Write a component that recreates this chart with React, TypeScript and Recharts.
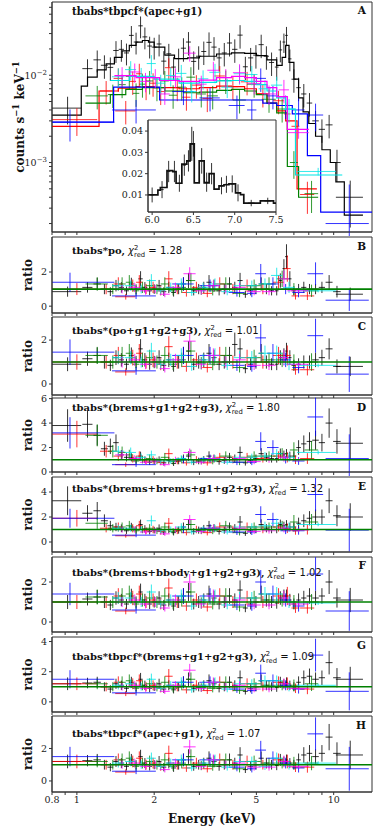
import React from 'react';
import { ComposedChart, Scatter, Line, XAxis, YAxis, ErrorBar, ReferenceLine, ReferenceArea } from 'recharts';

// ---------- axis ticks ----------
const xTicks = [0.8, 0.9, 1, 2, 3, 4, 5, 6, 7, 8, 9, 10];
const xLabeled = [0.8, 1, 2, 5, 10];
const aTicks = [2e-4, 3e-4, 4e-4, 5e-4, 6e-4, 7e-4, 8e-4, 9e-4, 1e-3, 2e-3, 3e-3, 4e-3, 5e-3, 6e-3, 7e-3, 8e-3, 9e-3, 1e-2, 2e-2, 3e-2, 4e-2, 5e-2, 6e-2];
const insetXTicks = [6.0, 6.5, 7.0, 7.5];
const insetYTicks = [0.01, 0.02, 0.03, 0.04];

// ---------- black (source) ----------
const blackEn = [0.92, 1.1, 1.2, 1.28, 1.35, 1.42, 1.49, 1.56, 1.63, 1.7, 1.77, 1.84, 1.92, 2.0, 2.09, 2.18, 2.28, 2.38, 2.49, 2.6, 2.72, 2.85, 2.98, 3.12, 3.27, 3.42, 3.58, 3.75, 3.93, 4.12, 4.32, 4.53, 4.75, 4.98, 5.22, 5.47, 5.73, 6.0, 6.2, 6.4, 6.55, 6.75, 7.0, 7.3, 7.65, 8.05, 8.5, 9.0, 9.6, 10.3, 11.6];
const blackHw = [0.12, 0.05, 0.04, 0.04, 0.035, 0.035, 0.035, 0.035, 0.035, 0.035, 0.035, 0.04, 0.04, 0.045, 0.045, 0.05, 0.05, 0.05, 0.055, 0.06, 0.06, 0.065, 0.07, 0.07, 0.075, 0.08, 0.08, 0.085, 0.09, 0.1, 0.1, 0.1, 0.11, 0.12, 0.12, 0.13, 0.13, 0.1, 0.1, 0.08, 0.08, 0.1, 0.15, 0.15, 0.18, 0.2, 0.25, 0.25, 0.3, 0.35, 1.4];
const blackFlux = [0.0042, 0.0119, 0.015, 0.013, 0.0123, 0.0192, 0.0198, 0.018, 0.0286, 0.024, 0.0368, 0.0275, 0.0216, 0.021, 0.0228, 0.0145, 0.0176, 0.0124, 0.0155, 0.0204, 0.024, 0.0144, 0.0165, 0.0187, 0.0238, 0.021, 0.0158, 0.018, 0.0234, 0.0198, 0.0288, 0.0125, 0.0158, 0.017, 0.0224, 0.0165, 0.014, 0.0124, 0.0195, 0.024, 0.0286, 0.0154, 0.009, 0.0072, 0.0061, 0.0048, 0.003, 0.0024, 0.0027, 0.001, 0.0004];
const blackRel = [0.35, 0.28, 0.28, 0.3, 0.3, 0.28, 0.28, 0.28, 0.28, 0.28, 0.28, 0.28, 0.28, 0.28, 0.28, 0.3, 0.3, 0.3, 0.3, 0.3, 0.3, 0.3, 0.3, 0.3, 0.3, 0.3, 0.3, 0.3, 0.3, 0.3, 0.3, 0.3, 0.3, 0.3, 0.3, 0.3, 0.3, 0.3, 0.28, 0.25, 0.25, 0.28, 0.3, 0.3, 0.3, 0.3, 0.3, 0.3, 0.3, 0.4, 0.55];
const blackModelEn = [0.8, 1.04, 1.1, 1.2, 1.3, 1.4, 1.5, 1.6, 1.7, 1.8, 1.9, 2.0, 2.2, 2.4, 2.7, 3.0, 3.5, 4.0, 4.5, 5.0, 5.5, 6.0, 6.3, 6.5, 6.7, 7.0, 7.3, 7.6, 8.0, 8.5, 9.0, 9.7, 10.2, 11.0, 13.0];
const blackModelFlux = [0.0035, 0.0075, 0.0095, 0.0115, 0.0135, 0.016, 0.019, 0.022, 0.024, 0.025, 0.024, 0.021, 0.017, 0.0155, 0.0158, 0.0165, 0.0175, 0.018, 0.0178, 0.0168, 0.015, 0.013, 0.016, 0.022, 0.014, 0.009, 0.0055, 0.0038, 0.0028, 0.002, 0.0014, 0.001, 0.0006, 0.00025, 0.00025];
const blackRatioB = [0.85, 1.1, 1.3, 1.0, 0.85, 1.2, 1.1, 0.9, 1.3, 1.0, 1.6, 1.1, 0.9, 1.0, 1.2, 0.85, 1.1, 0.8, 1.0, 1.3, 1.5, 0.9, 1.0, 1.1, 1.4, 1.2, 0.9, 1.0, 1.3, 1.1, 1.5, 0.7, 0.9, 1.0, 1.3, 1.0, 0.9, 0.9, 1.5, 2.2, 2.9, 1.6, 0.9, 1.0, 1.1, 1.0, 1.0, 1.1, 1.4, 0.85, 0.7];
const blackRatioC = [0.9, 1.15, 1.3, 1.0, 0.85, 1.2, 1.1, 0.9, 1.3, 1.0, 1.6, 1.1, 0.9, 1.0, 1.2, 0.85, 1.1, 0.8, 1.0, 1.3, 1.5, 0.9, 1.0, 1.1, 1.4, 1.2, 0.9, 1.0, 1.3, 1.8, 1.6, 0.7, 0.9, 1.0, 1.4, 1.0, 0.9, 0.9, 1.2, 1.3, 1.5, 1.2, 0.85, 0.9, 1.0, 1.0, 1.1, 1.2, 1.6, 0.8, 0.8];
const blackRatioD = [3.8, 3.9, 3.0, 1.9, 2.1, 2.4, 1.4, 1.2, 1.2, 1.0, 1.3, 1.0, 0.8, 0.9, 1.0, 0.75, 0.95, 0.7, 0.9, 1.1, 1.3, 0.8, 0.9, 1.0, 1.3, 1.1, 0.85, 0.95, 1.2, 1.1, 1.6, 0.75, 0.95, 1.1, 1.5, 1.2, 1.1, 1.1, 1.5, 1.4, 1.5, 1.3, 1.3, 2.0, 2.3, 2.5, 2.6, 2.4, 4.0, 2.5, 2.35];
const blackRatioE = [3.3, 2.3, 2.5, 1.7, 1.3, 1.2, 1.1, 0.9, 1.2, 1.0, 1.4, 1.05, 0.85, 0.95, 1.1, 0.8, 1.0, 0.75, 0.95, 1.2, 1.4, 0.85, 0.95, 1.05, 1.3, 1.1, 0.85, 0.95, 1.2, 1.1, 1.6, 0.7, 0.9, 1.0, 1.4, 1.1, 1.0, 1.0, 1.4, 1.3, 1.4, 1.2, 1.2, 1.5, 1.7, 1.9, 2.0, 2.0, 3.3, 2.1, 2.0];
const blackRatioF = [1.0, 1.15, 1.25, 1.0, 0.85, 1.2, 1.1, 0.9, 1.3, 1.0, 1.5, 1.1, 0.9, 1.0, 1.2, 0.85, 1.1, 0.8, 1.0, 1.3, 1.5, 0.9, 1.0, 1.1, 1.4, 1.2, 0.9, 1.0, 1.3, 1.1, 1.6, 0.7, 0.9, 1.0, 1.4, 1.1, 1.0, 0.95, 1.2, 1.3, 1.3, 1.1, 0.9, 1.1, 1.2, 1.3, 1.2, 1.3, 2.0, 1.2, 1.1];
const blackRatioG = [1.2, 1.25, 1.3, 1.0, 0.85, 1.2, 1.1, 0.9, 1.3, 1.0, 1.5, 1.1, 0.9, 1.0, 1.2, 0.85, 1.1, 0.8, 1.0, 1.3, 1.5, 0.9, 1.0, 1.1, 1.4, 1.2, 0.9, 1.0, 1.3, 1.1, 1.6, 0.7, 0.9, 1.0, 1.4, 1.1, 1.0, 0.95, 1.3, 1.2, 1.3, 1.1, 1.0, 1.3, 1.6, 1.7, 1.5, 1.6, 2.6, 1.6, 1.5];
const blackRatioH = [1.2, 1.25, 1.3, 1.0, 0.85, 1.2, 1.1, 0.9, 1.3, 1.0, 1.5, 1.1, 0.9, 1.0, 1.2, 0.85, 1.1, 0.8, 1.0, 1.3, 1.5, 0.9, 1.0, 1.1, 1.4, 1.2, 0.9, 1.0, 1.3, 1.1, 1.6, 0.7, 0.9, 1.0, 1.4, 1.1, 1.0, 0.95, 1.3, 1.2, 1.3, 1.1, 1.0, 1.3, 1.6, 1.7, 1.5, 1.7, 2.7, 1.7, 1.6];

// ---------- red ----------
const redEn = [1.0, 1.3, 1.45, 1.55, 1.65, 1.75, 1.86, 1.98, 2.12, 2.28, 2.46, 2.67, 2.92, 3.22, 3.6, 4.05, 4.6, 5.3, 6.1, 6.6, 7.1, 7.9];
const redHw = [0.2, 0.07, 0.06, 0.14, 0.05, 0.05, 0.06, 0.06, 0.07, 0.08, 0.09, 0.1, 0.12, 0.14, 0.17, 0.2, 0.25, 0.3, 0.3, 0.2, 0.25, 0.5];
const redFlux = [0.0031, 0.0066, 0.0092, 0.0039, 0.0085, 0.0104, 0.0074, 0.0081, 0.0065, 0.0122, 0.0072, 0.0056, 0.0077, 0.0054, 0.0098, 0.0074, 0.0084, 0.0061, 0.0051, 0.0036, 0.0026, 0.00043];
const redRel = [0.35, 0.3, 0.3, 0.3, 0.3, 0.3, 0.3, 0.3, 0.3, 0.28, 0.3, 0.3, 0.3, 0.3, 0.3, 0.3, 0.3, 0.3, 0.3, 0.35, 0.35, 0.4];
const redModelEn = [0.8, 1.22, 1.45, 1.7, 2.0, 2.5, 3.0, 3.5, 4.0, 4.5, 5.0, 5.5, 6.0, 6.5, 7.2, 8.6];
const redModelFlux = [0.0026, 0.0066, 0.0071, 0.0074, 0.0072, 0.007, 0.0072, 0.0075, 0.0074, 0.007, 0.0061, 0.0048, 0.0039, 0.003, 0.0005, 0.0005];
const redRatioB = [1.0, 1.0, 1.3, 0.55, 1.2, 1.4, 1.0, 1.1, 0.9, 1.6, 1.0, 0.8, 1.1, 0.75, 1.3, 1.0, 1.2, 1.0, 1.4, 2.2, 0.6, 0.6];
const redRatioC = [1.0, 1.0, 1.3, 0.55, 1.2, 1.4, 1.0, 1.1, 0.9, 1.7, 1.0, 0.8, 1.1, 0.75, 1.3, 1.0, 1.2, 1.0, 1.3, 1.3, 0.65, 0.65];
const redRatioD = [3.1, 1.7, 1.3, 0.6, 1.1, 1.3, 0.9, 1.0, 0.8, 1.5, 0.9, 0.75, 1.0, 0.75, 1.2, 1.0, 1.2, 1.1, 1.3, 1.2, 1.0, 1.1];
const redRatioE = [1.9, 1.1, 1.2, 0.5, 1.1, 1.3, 0.9, 1.0, 0.85, 1.5, 0.9, 0.75, 1.0, 0.75, 1.2, 1.0, 1.2, 1.0, 1.2, 1.1, 0.9, 1.0];
const redRatioF = [1.0, 1.0, 1.3, 0.55, 1.2, 1.4, 1.0, 1.1, 0.9, 1.7, 1.0, 0.8, 1.1, 0.75, 1.3, 1.0, 1.2, 1.0, 1.3, 1.3, 0.7, 0.7];
const redRatioG = [1.2, 1.0, 1.3, 0.55, 1.2, 1.4, 1.0, 1.1, 0.9, 1.7, 1.0, 0.8, 1.1, 0.75, 1.3, 1.0, 1.2, 1.0, 1.3, 1.2, 0.9, 0.85];
const redRatioH = [1.2, 1.0, 1.3, 0.55, 1.2, 1.4, 1.0, 1.1, 0.9, 1.7, 1.0, 0.8, 1.1, 0.75, 1.3, 1.0, 1.2, 1.0, 1.3, 1.2, 0.85, 0.85];

// ---------- green ----------
const greenEn = [1.2, 1.38, 1.5, 1.6, 1.7, 1.8, 1.92, 2.05, 2.2, 2.37, 2.56, 2.78, 3.05, 3.38, 3.8, 4.3, 4.9, 5.6, 6.3, 7.0, 8.2];
const greenHw = [0.12, 0.06, 0.05, 0.05, 0.05, 0.05, 0.06, 0.07, 0.08, 0.09, 0.1, 0.11, 0.13, 0.16, 0.2, 0.25, 0.3, 0.35, 0.3, 0.25, 0.5];
const greenFlux = [0.0058, 0.006, 0.0078, 0.0097, 0.0062, 0.0079, 0.0086, 0.0072, 0.0086, 0.0059, 0.0073, 0.0095, 0.0061, 0.0058, 0.0087, 0.0052, 0.0079, 0.0053, 0.0041, 0.001, 0.00044];
const greenRel = [0.3, 0.3, 0.3, 0.3, 0.3, 0.3, 0.3, 0.3, 0.3, 0.3, 0.3, 0.3, 0.3, 0.3, 0.3, 0.3, 0.3, 0.3, 0.3, 0.35, 0.4];
const greenModelEn = [1.08, 1.35, 1.55, 1.8, 2.2, 2.6, 3.0, 3.5, 4.0, 4.5, 5.0, 5.5, 6.0, 6.6, 7.3, 8.7];
const greenModelFlux = [0.0048, 0.006, 0.0069, 0.0072, 0.0066, 0.0063, 0.0064, 0.0067, 0.0069, 0.0066, 0.006, 0.0048, 0.0037, 0.0009, 0.0004, 0.0004];
const greenRatioB = [1.3, 1.0, 1.3, 1.4, 0.9, 1.1, 1.2, 1.0, 1.3, 0.9, 1.1, 1.5, 0.95, 0.9, 1.3, 0.75, 1.2, 1.3, 1.6, 1.0, 0.9];
const greenRatioC = [1.3, 1.0, 1.3, 1.4, 0.9, 1.1, 1.2, 1.0, 1.3, 0.9, 1.1, 1.5, 0.95, 0.9, 1.3, 0.75, 1.2, 1.1, 1.1, 1.0, 1.0];
const greenRatioD = [3.0, 1.7, 1.6, 1.4, 0.9, 1.0, 1.1, 0.9, 1.2, 0.85, 1.0, 1.4, 0.9, 0.9, 1.3, 0.8, 1.3, 1.3, 1.5, 1.8, 1.8];
const greenRatioE = [1.5, 1.1, 1.2, 1.3, 0.9, 1.0, 1.1, 0.9, 1.2, 0.85, 1.0, 1.4, 0.9, 0.9, 1.3, 0.75, 1.2, 1.2, 1.3, 1.6, 1.6];
const greenRatioF = [1.25, 1.0, 1.3, 1.4, 0.9, 1.1, 1.2, 1.0, 1.3, 0.9, 1.1, 1.5, 0.95, 0.9, 1.3, 0.75, 1.2, 1.1, 1.1, 1.0, 1.0];
const greenRatioG = [1.2, 1.0, 1.3, 1.4, 0.9, 1.1, 1.2, 1.0, 1.3, 0.9, 1.1, 1.5, 0.95, 0.9, 1.3, 0.75, 1.2, 1.1, 1.1, 1.1, 1.2];
const greenRatioH = [1.2, 1.0, 1.3, 1.4, 0.9, 1.1, 1.2, 1.0, 1.3, 0.9, 1.1, 1.5, 0.95, 0.9, 1.3, 0.75, 1.2, 1.1, 1.1, 1.1, 1.1];

// ---------- blue ----------
const blueEn = [0.94, 1.7, 2.6, 3.3, 4.2, 4.8, 5.2, 5.8, 6.5, 7.3, 8.5, 11.5];
const blueHw: (number | [number, number])[] = [[0.14, 0.46], 0.33, 0.25, 0.3, 0.3, 0.2, 0.25, 0.3, 0.3, 0.4, 0.6, 2.2];
const blueFlux = [0.0029, 0.004, 0.0065, 0.0055, 0.0045, 0.004, 0.0092, 0.0058, 0.0045, 0.004, 0.0035, 0.0002];
const blueRel = [0.4, 0.3, 0.3, 0.3, 0.3, 0.3, 0.3, 0.3, 0.3, 0.35, 0.35, 1.8];
const blueModelEn = [0.8, 1.39, 2.1, 5.3, 6.0, 6.9, 7.9, 8.9, 14.1];
const blueModelFlux = [0.0029, 0.0073, 0.0052, 0.0048, 0.0045, 0.0036, 0.0012, 0.00027, 0.00027];
const blueRatioB = [1.4, 0.6, 1.3, 1.2, 0.8, 0.75, 1.9, 1.3, 1.0, 0.8, 1.9, 0.35];
const blueRatioC = [1.45, 0.6, 1.3, 1.3, 0.85, 0.8, 2.1, 1.4, 1.1, 0.75, 2.2, 0.45];
const blueRatioD = [3.2, 0.6, 1.0, 1.1, 0.8, 0.8, 2.5, 2.0, 1.0, 0.9, 4.5, 1.1];
const blueRatioE = [1.9, 0.55, 1.0, 1.1, 0.8, 0.8, 2.2, 1.8, 0.9, 0.9, 3.8, 0.95];
const blueRatioF = [1.4, 0.6, 1.3, 1.3, 0.85, 0.8, 2.0, 1.4, 1.1, 0.8, 2.4, 0.55];
const blueRatioG = [1.5, 0.6, 1.3, 1.3, 0.85, 0.75, 1.9, 1.4, 1.1, 0.85, 3.1, 0.7];
const blueRatioH = [1.5, 0.6, 1.3, 1.3, 0.85, 0.75, 1.9, 1.4, 1.1, 0.8, 2.9, 0.75];

// ---------- cyan ----------
const cyanEn = [1.45, 1.62, 1.78, 1.95, 2.12, 2.32, 2.55, 2.8, 3.1, 3.45, 3.85, 4.3, 4.8, 5.4, 6.0, 6.7, 8.7];
const cyanHw = [0.08, 0.08, 0.08, 0.08, 0.09, 0.1, 0.12, 0.13, 0.15, 0.17, 0.2, 0.22, 0.25, 0.3, 0.3, 0.35, 1.5];
const cyanFlux = [0.0096, 0.0116, 0.0097, 0.0136, 0.0081, 0.0099, 0.0105, 0.0065, 0.0091, 0.0108, 0.0073, 0.0104, 0.0102, 0.007, 0.0077, 0.0041, 0.00079];
const cyanRel = [0.25, 0.25, 0.25, 0.25, 0.25, 0.25, 0.25, 0.25, 0.25, 0.25, 0.25, 0.25, 0.25, 0.25, 0.25, 0.3, 0.1];
const cyanModelEn = [1.35, 1.6, 2.0, 2.5, 3.0, 3.5, 4.0, 4.5, 5.0, 5.5, 6.0, 6.5, 7.1, 10.8];
const cyanModelFlux = [0.0087, 0.0097, 0.009, 0.0081, 0.0083, 0.0086, 0.0087, 0.0085, 0.0078, 0.0066, 0.0055, 0.0041, 0.00072, 0.00072];
const cyanRatioB = [1.2, 1.2, 1.0, 1.5, 0.9, 1.1, 1.3, 0.8, 1.1, 1.3, 0.85, 1.2, 1.2, 1.3, 1.8, 1.1, 0.9];
const cyanRatioC = [1.2, 1.2, 1.0, 1.5, 0.9, 1.1, 1.3, 0.8, 1.1, 1.3, 0.85, 1.2, 1.2, 1.4, 1.4, 0.9, 0.85];
const cyanRatioD = [1.7, 1.6, 1.2, 1.4, 0.9, 0.9, 1.1, 0.8, 1.0, 1.1, 0.8, 1.2, 1.2, 1.3, 1.5, 1.2, 1.6];
const cyanRatioE = [1.1, 1.1, 1.0, 1.7, 0.9, 1.0, 1.2, 0.8, 1.0, 1.1, 0.8, 1.2, 1.2, 1.3, 1.5, 1.2, 1.4];
const cyanRatioF = [1.2, 1.2, 1.0, 1.5, 0.9, 1.1, 1.3, 0.8, 1.1, 1.3, 0.85, 1.2, 1.2, 1.4, 1.4, 1.0, 0.95];
const cyanRatioG = [1.1, 1.2, 1.0, 1.5, 0.9, 1.1, 1.3, 0.8, 1.1, 1.3, 0.85, 1.2, 1.2, 1.4, 1.4, 1.0, 1.1];
const cyanRatioH = [1.1, 1.2, 1.0, 1.4, 0.9, 1.1, 1.3, 0.8, 1.1, 1.3, 0.85, 1.2, 1.2, 0.9, 1.4, 1.0, 1.1];

// ---------- magenta ----------
const magentaEn = [1.5, 1.68, 1.85, 2.02, 2.2, 2.42, 2.75, 3.05, 3.4, 3.8, 4.3, 4.9, 5.6, 6.4, 7.3];
const magentaHw = [0.09, 0.09, 0.09, 0.09, 0.1, 0.12, 0.15, 0.15, 0.18, 0.2, 0.25, 0.3, 0.35, 0.3, 0.7];
const magentaFlux = [0.0099, 0.0109, 0.0085, 0.0094, 0.0061, 0.0096, 0.0179, 0.0079, 0.0114, 0.0094, 0.0107, 0.008, 0.0061, 0.0068, 0.0022];
const magentaRel = [0.25, 0.25, 0.25, 0.25, 0.25, 0.25, 0.2, 0.25, 0.25, 0.25, 0.25, 0.25, 0.25, 0.3, 0.15];
const magentaModelEn = [1.4, 1.7, 2.1, 2.5, 3.0, 3.5, 4.0, 4.5, 5.0, 5.5, 6.0, 6.6, 8.0];
const magentaModelFlux = [0.0099, 0.0094, 0.0087, 0.0085, 0.0088, 0.0094, 0.0097, 0.0094, 0.0085, 0.0072, 0.0057, 0.0024, 0.0024];
const magentaRatioB = [1.0, 1.1, 0.9, 1.0, 0.7, 1.1, 1.9, 0.9, 1.2, 1.0, 1.1, 0.85, 0.85, 1.6, 0.9];
const magentaRatioC = [1.0, 1.1, 0.9, 1.0, 0.7, 1.1, 1.95, 0.9, 1.3, 1.0, 1.1, 0.85, 0.85, 1.2, 0.9];
const magentaRatioD = [1.4, 1.1, 0.8, 0.9, 0.6, 1.0, 1.6, 0.8, 1.1, 1.0, 1.1, 0.85, 1.0, 1.2, 1.0];
const magentaRatioE = [1.0, 1.0, 0.8, 0.9, 0.65, 1.0, 1.8, 0.85, 1.1, 1.0, 1.1, 0.85, 0.9, 1.1, 0.95];
const magentaRatioF = [1.0, 1.1, 0.9, 1.0, 0.7, 1.1, 2.0, 0.9, 1.3, 1.0, 1.1, 0.85, 0.85, 1.2, 0.9];
const magentaRatioG = [1.0, 1.1, 0.9, 1.0, 0.7, 1.1, 2.1, 0.9, 1.3, 1.0, 1.1, 0.85, 0.85, 1.2, 0.9];
const magentaRatioH = [1.0, 1.1, 0.9, 1.0, 0.7, 1.1, 2.1, 0.9, 1.3, 1.0, 1.1, 0.85, 0.85, 1.2, 0.9];

// ---------- inset (Fe K region) ----------
const insetStepEn = [5.95, 6.07, 6.1, 6.18, 6.25, 6.29, 6.36, 6.42, 6.46, 6.51, 6.57, 6.63, 6.69, 6.75, 6.81, 6.87, 6.93, 7.01, 7.07, 7.11, 7.31, 7.47, 7.5];
const insetStepFlux = [0.01, 0.0123, 0.0135, 0.0214, 0.021, 0.0155, 0.0245, 0.026, 0.034, 0.0157, 0.026, 0.0157, 0.02, 0.0127, 0.0143, 0.0148, 0.0152, 0.011, 0.0102, 0.0062, 0.0072, 0.0062, 0.0062];
const insetEn = [6.0, 6.12, 6.2, 6.27, 6.33, 6.39, 6.44, 6.48, 6.5, 6.6, 6.66, 6.72, 6.84, 6.9, 6.97, 7.04, 7.2, 7.4];
const insetFlux = [0.01, 0.0125, 0.021, 0.021, 0.0155, 0.024, 0.026, 0.034, 0.034, 0.026, 0.016, 0.02, 0.0143, 0.015, 0.0152, 0.011, 0.0062, 0.0072];
const insetErr = [0.0035, 0.004, 0.005, 0.005, 0.004, 0.005, 0.005, 0.008, 0.006, 0.006, 0.0045, 0.005, 0.004, 0.004, 0.004, 0.004, 0.0015, 0.0015];
const insetHw = [0.02, 0.02, 0.02, 0.02, 0.02, 0.02, 0.02, 0.02, 0.02, 0.02, 0.02, 0.02, 0.02, 0.02, 0.02, 0.02, 0.04, 0.04];

// ---------- panel text ----------
const panelLetters = ['B', 'C', 'D', 'E', 'F', 'G', 'H'];
const panelModels = ['tbabs*po,', 'tbabs*(po+g1+g2+g3),', 'tbabs*(brems+g1+g2+g3),', 'tbabs*(brems+brems+g1+g2+g3),', 'tbabs*(brems+bbody+g1+g2+g3),', 'tbabs*tbpcf*(brems+g1+g2+g3),', 'tbabs*tbpcf*(apec+g1),'];
const panelChi = ['1.28', '1.01', '1.80', '1.32', '1.02', '1.09', '1.07'];

// ---------- styling / layout ----------
const SERIF = "'DejaVu Serif', serif";
const SANS = "'DejaVu Sans', sans-serif";
const X_DOMAIN: [number, number] = [0.8, 14.1];
const A_DOMAIN: [number, number] = [1.6e-4, 0.069];
const C_BLACK = '#000000';
const C_RED = '#ff0000';
const C_GREEN = '#008000';
const C_BLUE = '#0000ff';
const C_CYAN = '#00e5e5';
const C_MAGENTA = '#ff00ff';
const AXIS = '#333333';
const TOPPAD = 6;

const ratioLayout = [
  { top: 237, bottom: 313, domain: [-0.4, 4.05], ticks: [0, 2] },
  { top: 317, bottom: 395, domain: [-0.5, 3.05], ticks: [0, 2] },
  { top: 398, bottom: 472, domain: [0, 6.05], ticks: [0, 2, 4, 6] },
  { top: 477, bottom: 552, domain: [-0.8, 5.2], ticks: [0, 2, 4] },
  { top: 557, bottom: 632, domain: [-0.5, 3.25], ticks: [0, 2] },
  { top: 637, bottom: 712, domain: [-0.67, 4.3], ticks: [0, 2, 4] },
  { top: 716, bottom: 792, domain: [-0.68, 4.0], ticks: [0, 2] },
];
const ratioSets = [
  [blackRatioB, redRatioB, greenRatioB, blueRatioB, cyanRatioB, magentaRatioB],
  [blackRatioC, redRatioC, greenRatioC, blueRatioC, cyanRatioC, magentaRatioC],
  [blackRatioD, redRatioD, greenRatioD, blueRatioD, cyanRatioD, magentaRatioD],
  [blackRatioE, redRatioE, greenRatioE, blueRatioE, cyanRatioE, magentaRatioE],
  [blackRatioF, redRatioF, greenRatioF, blueRatioF, cyanRatioF, magentaRatioF],
  [blackRatioG, redRatioG, greenRatioG, blueRatioG, cyanRatioG, magentaRatioG],
  [blackRatioH, redRatioH, greenRatioH, blueRatioH, cyanRatioH, magentaRatioH],
];
const seriesDefs = [
  { en: blackEn, hw: blackHw, rel: blackRel, color: C_BLACK },
  { en: redEn, hw: redHw, rel: redRel, color: C_RED },
  { en: greenEn, hw: greenHw, rel: greenRel, color: C_GREEN },
  { en: blueEn, hw: blueHw, rel: blueRel, color: C_BLUE },
  { en: cyanEn, hw: cyanHw, rel: cyanRel, color: C_CYAN },
  { en: magentaEn, hw: magentaHw, rel: magentaRel, color: C_MAGENTA },
];
const fluxSets = [
  { flux: blackFlux, mEn: blackModelEn, mFlux: blackModelFlux },
  { flux: redFlux, mEn: redModelEn, mFlux: redModelFlux },
  { flux: greenFlux, mEn: greenModelEn, mFlux: greenModelFlux },
  { flux: blueFlux, mEn: blueModelEn, mFlux: blueModelFlux },
  { flux: cyanFlux, mEn: cyanModelEn, mFlux: cyanModelFlux },
  { flux: magentaFlux, mEn: magentaModelEn, mFlux: magentaModelFlux },
];

function makePoints(en: number[], hw: any[], val: number[], rel: number[], logSafe = false) {
  return en.map((e, i) => {
    const v = val[i];
    const err = v * rel[i];
    return { x: e, y: v, ex: hw[i], ey: logSafe ? [Math.min(err, v * 0.92), err] : err };
  });
}
function makeSteps(en: number[], val: number[]) {
  return en.map((e, i) => ({ x: e, y: val[i] }));
}

const NoShape = () => <g />;

function crosses(data: any[], color: string, id: string, width = 1, opacity = 0.8) {
  return (
    <Scatter key={'s' + id} data={data} dataKey="y" shape={NoShape} isAnimationActive={false} legendType="none">
      <ErrorBar dataKey="ex" direction="x" width={0} stroke={color} strokeWidth={width} strokeOpacity={opacity} />
      <ErrorBar dataKey="ey" direction="y" width={0} stroke={color} strokeWidth={width} strokeOpacity={opacity} />
    </Scatter>
  );
}

const LogTick = (props: any) => {
  const { x, y, payload } = props;
  const v = payload.value;
  const exp = Math.round(Math.log10(v));
  if (Math.abs(v / Math.pow(10, exp) - 1) > 1e-6) return <g />;
  return (
    <text x={x} y={y} dy={3.5} textAnchor="end" fontSize={9.5} fontFamily={SERIF} fill="#222">
      <tspan>10</tspan>
      <tspan dy={-4} fontSize={7}>{'\u2212' + (-exp)}</tspan>
    </text>
  );
};

const tickStyle = { fill: '#222', fontSize: 9.5, fontFamily: SERIF };

function RatioPanel({ idx }: { idx: number }) {
  const lay = ratioLayout[idx];
  const last = idx === ratioLayout.length - 1;
  const h = lay.bottom - lay.top;
  const xh = last ? 16 : 4;
  const sets = ratioSets[idx];
  return (
    <div style={{ position: 'absolute', left: 0, top: lay.top - TOPPAD }}>
      <ComposedChart width={374} height={h + TOPPAD + xh} margin={{ top: TOPPAD, right: 2, bottom: 0, left: 0 }}>
        <XAxis dataKey="x" type="number" scale="log" domain={X_DOMAIN} allowDataOverflow ticks={xTicks} interval={0}
          tickFormatter={(v: number) => (last && xLabeled.includes(v) ? String(v) : '')}
          height={xh} tickSize={3} tickMargin={1} stroke={AXIS} tick={tickStyle} />
        <YAxis dataKey="y" type="number" domain={lay.domain as [number, number]} allowDataOverflow ticks={lay.ticks} interval={0}
          width={52} tickSize={3} tickMargin={2} stroke={AXIS} tick={tickStyle} />
        {seriesDefs.map((s, k) => crosses(makePoints(s.en, s.hw, sets[k], s.rel), s.color, 'r' + idx + '_' + k))}
        <ReferenceLine y={1} stroke={C_GREEN} strokeWidth={1.6} />
        <ReferenceArea x1={X_DOMAIN[0]} x2={X_DOMAIN[1]} y1={lay.domain[0]} y2={lay.domain[1]} fill="none" stroke={AXIS} strokeWidth={1} />
      </ComposedChart>
    </div>
  );
}

function SpectrumPanel() {
  return (
    <div style={{ position: 'absolute', left: 0, top: 0 }}>
      <ComposedChart width={374} height={236} margin={{ top: 2, right: 2, bottom: 0, left: 0 }}>
        <XAxis dataKey="x" type="number" scale="log" domain={X_DOMAIN} allowDataOverflow ticks={xTicks} interval={0}
          tickFormatter={() => ''} height={4} tickSize={3} stroke={AXIS} />
        <YAxis dataKey="y" type="number" scale="log" domain={A_DOMAIN} allowDataOverflow ticks={aTicks} interval={0}
          width={52} tickSize={3} tickMargin={2} stroke={AXIS} tick={<LogTick />} />
        {seriesDefs.map((s, k) => [
          crosses(makePoints(s.en, s.hw, fluxSets[k].flux, s.rel, true), s.color, 'a' + k),
          <Line key={'m' + k} data={makeSteps(fluxSets[k].mEn, fluxSets[k].mFlux)} dataKey="y" type="stepAfter"
            stroke={s.color} strokeWidth={1.2} dot={false} activeDot={false} isAnimationActive={false} legendType="none" />,
        ])}
        <ReferenceArea x1={X_DOMAIN[0]} x2={X_DOMAIN[1]} y1={A_DOMAIN[0]} y2={A_DOMAIN[1]} fill="none" stroke={AXIS} strokeWidth={1} />
      </ComposedChart>
    </div>
  );
}

function InsetPanel() {
  const dom: [number, number] = [0.002, 0.0452];
  const xd: [number, number] = [5.95, 7.5];
  const pts = insetEn.map((e, i) => ({ x: e, y: insetFlux[i], ex: insetHw[i], ey: insetErr[i] }));
  return (
    <>
      <div style={{ position: 'absolute', left: 148, top: 120, width: 128, height: 92, background: '#fff' }} />
      <div style={{ position: 'absolute', left: 116, top: 118 }}>
        <ComposedChart width={172} height={108} margin={{ top: 2, right: 12, bottom: 0, left: 0 }}>
          <XAxis dataKey="x" type="number" domain={xd} allowDataOverflow ticks={insetXTicks} interval={0}
            tickFormatter={(v: number) => v.toFixed(1)} height={14} tickSize={3} tickMargin={1} stroke={AXIS} tick={tickStyle} />
          <YAxis dataKey="y" type="number" domain={dom} allowDataOverflow ticks={insetYTicks} interval={0}
            tickFormatter={(v: number) => v.toFixed(2)} width={32} tickSize={3} tickMargin={2} stroke={AXIS} tick={tickStyle} />
          <Line data={makeSteps(insetStepEn, insetStepFlux)} dataKey="y" type="stepAfter" stroke="#111" strokeWidth={1.7}
            dot={false} activeDot={false} isAnimationActive={false} legendType="none" />
          {crosses(pts, '#111', 'inset', 1, 0.85)}
          <ReferenceArea x1={xd[0]} x2={xd[1]} y1={dom[0]} y2={dom[1]} fill="none" stroke={AXIS} strokeWidth={1} />
        </ComposedChart>
      </div>
    </>
  );
}

function Labels() {
  const letterY = [246, 326, 407, 486, 565, 645, 725];
  const titleY = [250, 330, 407, 488, 572, 656, 733];
  return (
    <svg width={374} height={830} style={{ position: 'absolute', left: 0, top: 0, pointerEvents: 'none' }}>
      <text x={72} y={15} fontFamily={SERIF} fontWeight="bold" fontSize={10.2} fill="#111">tbabs*tbpcf*(apec+g1)</text>
      <text x={366} y={14} textAnchor="end" fontFamily={SERIF} fontWeight="bold" fontSize={10.5} fill="#111">A</text>
      <text transform="translate(24,117) rotate(-90)" textAnchor="middle" fontFamily={SERIF} fontWeight="bold" fontSize={12} fill="#111">
        counts s<tspan dy={-5} fontSize={8.5}>{'\u22121'}</tspan><tspan dy={5}> keV</tspan><tspan dy={-5} fontSize={8.5}>{'\u22121'}</tspan>
      </text>
      {ratioLayout.map((lay, i) => (
        <g key={'lab' + i}>
          <text transform={`translate(32,${(lay.top + lay.bottom) / 2}) rotate(-90)`} textAnchor="middle" fontFamily={SERIF} fontWeight="bold" fontSize={12} fill="#111">ratio</text>
          <text x={366} y={letterY[i] + 4} textAnchor="end" fontFamily={SERIF} fontWeight="bold" fontSize={10.5} fill="#111">{panelLetters[i]}</text>
          <text x={72} y={titleY[i] + 3.5} fontSize={10} fill="#111">
            <tspan fontFamily={SERIF} fontWeight="bold">{panelModels[i]}</tspan>
            <tspan fontFamily={SANS} fontStyle="italic" dx={3}>{'\u03c7'}</tspan>
            <tspan fontFamily={SANS} fontSize={6.8} dy={-3.8}>2</tspan>
            <tspan fontFamily={SANS} fontSize={6.8} dx={-4.3} dy={6.8}>red</tspan>
            <tspan fontFamily={SANS} dy={-3}>{' = ' + panelChi[i]}</tspan>
          </text>
        </g>
      ))}
      <text x={212} y={823} textAnchor="middle" fontFamily={SERIF} fontWeight="bold" fontSize={12} fill="#111">Energy (keV)</text>
    </svg>
  );
}

export default function App() {
  return (
    <div style={{ position: 'absolute', left: 0, top: 0, width: 374, height: 830, background: '#fff', fontFamily: SERIF }}>
      <SpectrumPanel />
      <InsetPanel />
      {ratioLayout.map((_, i) => <RatioPanel key={'p' + i} idx={i} />)}
      <Labels />
    </div>
  );
}
